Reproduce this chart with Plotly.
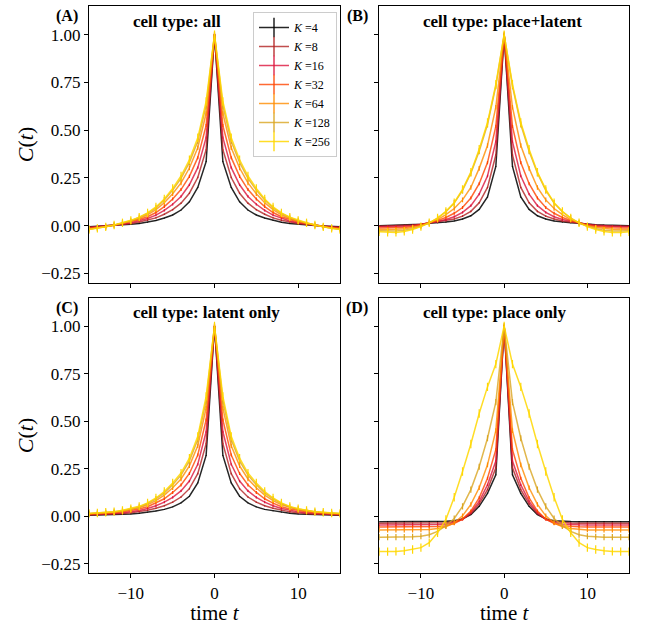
import plotly.graph_objects as go

# lags 0..15 (correlation is symmetric in t)
lags = list(range(0, 16))
K_values = [4, 8, 16, 32, 64, 128, 256]
colors = ["#000000", "#b22222", "#dc143c", "#ff4500", "#ff8c00", "#daa520", "#ffd700"]
line_colors = ["rgba(0,0,0,0.85)", "rgba(178,34,34,0.8)", "rgba(220,20,60,0.8)",
               "rgba(255,69,0,0.8)", "rgba(255,140,0,0.8)", "rgba(218,165,32,0.8)",
               "rgba(255,215,0,0.85)"]
err_sizes = [0.002, 0.004, 0.006, 0.008, 0.012, 0.016, 0.022]

panel_titles = ["cell type: all", "cell type: place+latent", "cell type: latent only", "cell type: place only"]
panel_letters = ["(A)", "(B)", "(C)", "(D)"]

A_K4   = [1, 0.335, 0.200, 0.125, 0.082, 0.056, 0.040, 0.027, 0.018, 0.012, 0.007, 0.004, 0.001, -0.001, -0.003, -0.005]
A_K8   = [1, 0.398, 0.252, 0.170, 0.118, 0.084, 0.060, 0.041, 0.028, 0.019, 0.011, 0.006, 0.001, -0.002, -0.005, -0.008]
A_K16  = [1, 0.461, 0.304, 0.214, 0.153, 0.112, 0.080, 0.055, 0.038, 0.025, 0.015, 0.008, 0.002, -0.003, -0.007, -0.011]
A_K32  = [1, 0.524, 0.356, 0.258, 0.189, 0.140, 0.100, 0.069, 0.047, 0.032, 0.019, 0.011, 0.002, -0.004, -0.010, -0.014]
A_K64  = [1, 0.587, 0.408, 0.302, 0.224, 0.167, 0.120, 0.084, 0.057, 0.038, 0.023, 0.013, 0.003, -0.005, -0.012, -0.017]
A_K128 = [1, 0.628, 0.442, 0.331, 0.248, 0.186, 0.134, 0.093, 0.064, 0.043, 0.026, 0.014, 0.003, -0.006, -0.013, -0.019]
A_K256 = [1, 0.650, 0.460, 0.345, 0.260, 0.195, 0.140, 0.098, 0.067, 0.045, 0.028, 0.015, 0.004, -0.006, -0.014, -0.020]

B_K4   = [1, 0.310, 0.150, 0.085, 0.052, 0.035, 0.025, 0.019, 0.015, 0.013, 0.008, 0.005, 0.003, 0.002, 0.001, 0.000]
B_K8   = [1, 0.370, 0.200, 0.120, 0.075, 0.050, 0.035, 0.025, 0.018, 0.014, 0.007, 0.003, 0.000, -0.001, -0.002, -0.003]
B_K16  = [1, 0.440, 0.260, 0.165, 0.105, 0.070, 0.047, 0.032, 0.022, 0.014, 0.006, 0.000, -0.003, -0.005, -0.006, -0.006]
B_K32  = [1, 0.520, 0.330, 0.220, 0.145, 0.095, 0.065, 0.043, 0.027, 0.015, 0.004, -0.004, -0.009, -0.011, -0.012, -0.012]
B_K64  = [1, 0.620, 0.420, 0.300, 0.200, 0.135, 0.090, 0.058, 0.032, 0.015, 0.000, -0.010, -0.016, -0.019, -0.020, -0.020]
B_K128 = [1, 0.730, 0.530, 0.390, 0.275, 0.185, 0.118, 0.073, 0.040, 0.015, -0.003, -0.016, -0.024, -0.028, -0.028, -0.026]
B_K256 = [1, 0.740, 0.540, 0.400, 0.280, 0.190, 0.120, 0.075, 0.040, 0.015, -0.005, -0.020, -0.030, -0.035, -0.035, -0.032]

C_K4   = [1, 0.320, 0.175, 0.105, 0.070, 0.049, 0.036, 0.028, 0.021, 0.016, 0.012, 0.010, 0.008, 0.007, 0.006, 0.005]
C_K8   = [1, 0.382, 0.224, 0.145, 0.101, 0.074, 0.055, 0.042, 0.031, 0.023, 0.018, 0.014, 0.011, 0.010, 0.008, 0.007]
C_K16  = [1, 0.444, 0.273, 0.185, 0.133, 0.099, 0.074, 0.055, 0.041, 0.030, 0.023, 0.018, 0.014, 0.013, 0.010, 0.009]
C_K32  = [1, 0.506, 0.322, 0.225, 0.164, 0.125, 0.092, 0.069, 0.050, 0.038, 0.029, 0.023, 0.018, 0.015, 0.013, 0.011]
C_K64  = [1, 0.568, 0.371, 0.265, 0.196, 0.150, 0.111, 0.082, 0.060, 0.045, 0.034, 0.027, 0.021, 0.018, 0.015, 0.013]
C_K128 = [1, 0.608, 0.403, 0.291, 0.216, 0.166, 0.123, 0.091, 0.067, 0.049, 0.038, 0.029, 0.023, 0.020, 0.016, 0.014]
C_K256 = [1, 0.630, 0.420, 0.305, 0.227, 0.175, 0.130, 0.096, 0.070, 0.052, 0.040, 0.031, 0.024, 0.021, 0.017, 0.015]

D_K4   = [1, 0.218, 0.120, 0.052, 0.009, -0.014, -0.024, -0.027, -0.028, -0.029, -0.029, -0.029, -0.029, -0.029, -0.029, -0.029]
D_K8   = [1, 0.255, 0.140, 0.065, 0.014, -0.016, -0.028, -0.034, -0.036, -0.037, -0.037, -0.037, -0.037, -0.037, -0.037, -0.037]
D_K16  = [1, 0.290, 0.165, 0.078, 0.020, -0.016, -0.033, -0.041, -0.044, -0.045, -0.046, -0.046, -0.046, -0.046, -0.046, -0.046]
D_K32  = [1, 0.350, 0.200, 0.097, 0.027, -0.015, -0.038, -0.050, -0.054, -0.055, -0.056, -0.056, -0.056, -0.056, -0.056, -0.056]
D_K64  = [1, 0.450, 0.270, 0.150, 0.062, 0.002, -0.035, -0.055, -0.065, -0.070, -0.072, -0.073, -0.073, -0.073, -0.073, -0.073]
D_K128 = [1, 0.600, 0.410, 0.260, 0.140, 0.052, -0.012, -0.050, -0.080, -0.097, -0.105, -0.108, -0.110, -0.110, -0.110, -0.110]
D_K256 = [1, 0.800, 0.680, 0.540, 0.380, 0.235, 0.100, -0.017, -0.087, -0.139, -0.165, -0.175, -0.182, -0.185, -0.186, -0.186]

panels = [
    [A_K4, A_K8, A_K16, A_K32, A_K64, A_K128, A_K256],
    [B_K4, B_K8, B_K16, B_K32, B_K64, B_K128, B_K256],
    [C_K4, C_K8, C_K16, C_K32, C_K64, C_K128, C_K256],
    [D_K4, D_K8, D_K16, D_K32, D_K64, D_K128, D_K256],
]

t_full = [-l for l in lags[:0:-1]] + lags


def mirror(half):
    return list(half[:0:-1]) + list(half)


W, H = 646, 625
FONT = "'Liberation Serif', 'Times New Roman', Times, serif"
x_doms = [(89 / W, 340 / W), (379.3 / W, 629 / W)]
y_doms = [(1 - 283 / H, 1 - 6 / H), (1 - 573.3 / H, 1 - 297.5 / H)]

fig = go.Figure()
axis_ids = ["", "2", "3", "4"]
for p in range(4):
    aid = axis_ids[p]
    for k in range(len(K_values)):
        yv = mirror(panels[p][k])
        fig.add_trace(go.Scatter(
            x=t_full, y=yv, mode="lines",
            line=dict(color=line_colors[k], width=1.5),
            error_y=dict(type="constant", value=err_sizes[k], color=colors[k], thickness=1.2, width=0),
            xaxis="x" + aid, yaxis="y" + aid, showlegend=False, hoverinfo="skip",
        ))

# legend entries
for k, K in enumerate(K_values):
    fig.add_trace(go.Scatter(
        x=[None], y=[None], mode="lines+markers",
        line=dict(color=line_colors[k], width=1.5),
        marker=dict(symbol="line-ns", size=14, line=dict(color=colors[k], width=1.3)),
        name=f"<i>K</i> ={K}", xaxis="x", yaxis="y",
    ))

layout = dict(
    width=W, height=H, margin=dict(l=0, r=0, t=0, b=0),
    paper_bgcolor="white", plot_bgcolor="white",
    font=dict(family=FONT, size=16, color="black"),
    legend=dict(x=337 / W, y=1 - 12 / H, xanchor="right", yanchor="top",
                bgcolor="rgba(255,255,255,0.9)", bordercolor="#cccccc", borderwidth=1,
                font=dict(size=12, family=FONT), tracegroupgap=0, itemwidth=30),
    annotations=[],
)

for p in range(4):
    aid = axis_ids[p]
    col = p % 2
    row = p // 2
    xa = dict(domain=x_doms[col], range=[-15, 15], anchor="y" + aid,
              tickvals=[-10, 0, 10], ticks="outside", ticklen=4, tickwidth=1, tickcolor="black",
              showline=True, linecolor="black", linewidth=1, mirror=True,
              showgrid=False, zeroline=False, showticklabels=(row == 1),
              tickfont=dict(size=17, family=FONT), automargin=False)
    ya = dict(domain=y_doms[row], range=[-0.30, 1.15], anchor="x" + aid,
              tickvals=[-0.25, 0, 0.25, 0.5, 0.75, 1.0], tickformat=".2f",
              ticks="outside", ticklen=4, tickwidth=1, tickcolor="black",
              showline=True, linecolor="black", linewidth=1, mirror=True,
              showgrid=False, zeroline=False, showticklabels=(col == 0),
              tickfont=dict(size=17, family=FONT), automargin=False)
    if row == 1:
        xa["title"] = dict(text="time <i>t</i>", font=dict(size=21, family=FONT), standoff=5)
    if col == 0:
        ya["title"] = dict(text="<i>C</i>(<i>t</i>)", font=dict(size=22, family=FONT), standoff=1)
    layout["xaxis" + aid] = xa
    layout["yaxis" + aid] = ya

    x0 = x_doms[col][0]
    x1 = x_doms[col][1]
    ytop = y_doms[row][1]
    layout["annotations"].append(dict(
        text=f"<b>{panel_titles[p]}</b>", xref="paper", yref="paper",
        x=x0 + 0.168 * (x1 - x0), y=ytop - 15 / H, xanchor="left", yanchor="middle",
        showarrow=False, font=dict(size=17, family=FONT)))
    layout["annotations"].append(dict(
        text=f"<b>{panel_letters[p]}</b>", xref="paper", yref="paper",
        x=x0 - 9 / W, y=ytop - 10 / H, xanchor="right", yanchor="middle",
        showarrow=False, font=dict(size=16, family=FONT)))

fig.update_layout(**layout)
fig.write_html("out.html")
